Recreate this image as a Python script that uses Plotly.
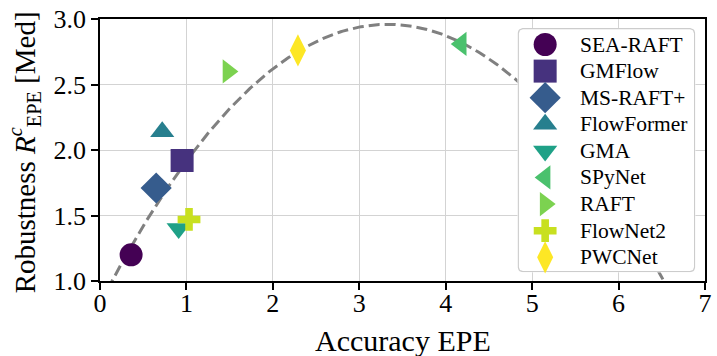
import numpy as np
import plotly.graph_objects as go

# ---------------- data ----------------
methods = ["SEA-RAFT", "GMFlow", "MS-RAFT+", "FlowFormer", "GMA",
           "SPyNet", "RAFT", "FlowNet2", "PWCNet"]
accuracy_epe = [0.36, 0.95, 0.65, 0.72, 0.91, 4.18, 1.48, 1.03, 2.29]
robustness_med = [1.20, 1.92, 1.71, 2.14, 1.40, 2.81, 2.60, 1.47, 2.76]
x_ticks = [0, 1, 2, 3, 4, 5, 6, 7]
y_ticks = [1.0, 1.5, 2.0, 2.5, 3.0]

# ---------------- styles ----------------
colors = ["#440154", "#46327e", "#365c8d", "#277f8e", "#1fa187",
          "#4ac16d", "#7cd250", "#c8e020", "#fde725"]
symbols = ["circle", "square", "diamond", "triangle-up", "triangle-down",
           "triangle-left", "triangle-right", "cross", "diamond-tall"]
sizes = [23, 23, 24, 21, 21, 21, 21, 19, 23]

FONT = "Liberation Serif"
W, H = 717, 356
ML, MR, MT, MB = 100, 5, 17, 75
PW, PH = W - ML - MR, H - MT - MB

fig = go.Figure()

# quadratic trend fitted to the data
coef = np.polyfit(accuracy_epe, robustness_med, 2)
xs = np.linspace(x_ticks[0], x_ticks[-1], 300)
fig.add_trace(go.Scatter(x=xs, y=np.polyval(coef, xs), mode="lines",
                         line=dict(color="#808080", width=3, dash="11px,5px"),
                         hoverinfo="skip", xaxis="x", yaxis="y"))

for m, xv, yv, c, s, sz in zip(methods, accuracy_epe, robustness_med, colors, symbols, sizes):
    fig.add_trace(go.Scatter(x=[xv], y=[yv], mode="markers", name=m,
                             marker=dict(symbol=s, size=sz, color=c, line=dict(width=0)),
                             cliponaxis=False, xaxis="x", yaxis="y"))

# ---------------- custom legend (own axes in pixel units) ----------------
LX0, LX1, LY0, LY1 = 522.3, 702.3, 26.0, 272.3   # legend box in page pixels
LW, LH = LX1 - LX0, LY1 - LY0
rad, inset = 4.5, 0.8
t = np.linspace(0, np.pi / 2, 8)
corners = [
    (LW - inset - rad, LH - inset - rad, 0.0),
    (inset + rad, LH - inset - rad, np.pi / 2),
    (inset + rad, inset + rad, np.pi),
    (LW - inset - rad, inset + rad, 3 * np.pi / 2),
]
bx, by = [], []
for cx, cy, a0 in corners:
    bx.extend(cx + rad * np.cos(a0 + t))
    by.extend(cy + rad * np.sin(a0 + t))
bx.append(bx[0]); by.append(by[0])
fig.add_trace(go.Scatter(x=bx, y=by, mode="lines", fill="toself",
                         fillcolor="rgba(255,255,255,0.8)",
                         line=dict(color="#cccccc", width=1.3),
                         hoverinfo="skip", xaxis="x2", yaxis="y2"))

ENTRY_X, TEXT_X, FIRST_Y, STEP = 28.0, 61.0, 16.7, 26.8
for i, (m, c, s, sz) in enumerate(zip(methods, colors, symbols, sizes)):
    yy = LH - (FIRST_Y + STEP * i)
    fig.add_trace(go.Scatter(x=[ENTRY_X], y=[yy], mode="markers",
                             marker=dict(symbol=s, size=sz, color=c, line=dict(width=0)),
                             cliponaxis=False, hoverinfo="skip", xaxis="x2", yaxis="y2"))
    fig.add_annotation(x=TEXT_X, y=yy, xref="x2", yref="y2", text=m,
                       showarrow=False, xanchor="left", yanchor="middle",
                       font=dict(family=FONT, size=21.5, color="black"))

axis_common = dict(showgrid=True, gridcolor="#d3d3d3", gridwidth=1.4,
                   showline=True, linecolor="black", linewidth=1.6, mirror=True,
                   ticks="outside", ticklen=7, tickwidth=1.6, tickcolor="black",
                   zeroline=False, tickfont=dict(family=FONT, size=26, color="black"))

fig.update_layout(
    width=W, height=H,
    margin=dict(l=ML, r=MR, t=MT, b=MB),
    paper_bgcolor="white", plot_bgcolor="white",
    showlegend=False,
    font=dict(family=FONT, color="black"),
    xaxis=dict(range=[x_ticks[0], x_ticks[-1]], tickvals=x_ticks, domain=[0, 1],
               anchor="y", ticklabelstandoff=-9, **axis_common),
    yaxis=dict(range=[y_ticks[0], y_ticks[-1]], tickvals=y_ticks, tickformat=".1f",
               domain=[0, 1], anchor="x", **axis_common),
    xaxis2=dict(domain=[(LX0 - ML) / PW, (LX1 - ML) / PW], range=[0, LW],
                anchor="y2", visible=False, fixedrange=True),
    yaxis2=dict(domain=[(MT + PH - LY1) / PH, (MT + PH - LY0) / PH], range=[0, LH],
                anchor="x2", visible=False, fixedrange=True),
)

fig.add_annotation(x=0.5, y=-(341 - (MT + PH)) / PH,
                   xref="paper", yref="paper", text="Accuracy EPE", showarrow=False,
                   xanchor="center", yanchor="middle",
                   font=dict(family=FONT, size=30, color="black"))
fig.add_annotation(x=(23.5 - ML) / PW, y=(MT + PH - 151) / PH, xref="paper", yref="paper",
                   text="Robustness <i>R</i><sup><i>c</i></sup><sub>EPE</sub> [Med]",
                   showarrow=False, textangle=-90, xanchor="center", yanchor="middle",
                   font=dict(family=FONT, size=29, color="black"))

fig.write_html("out.html")
